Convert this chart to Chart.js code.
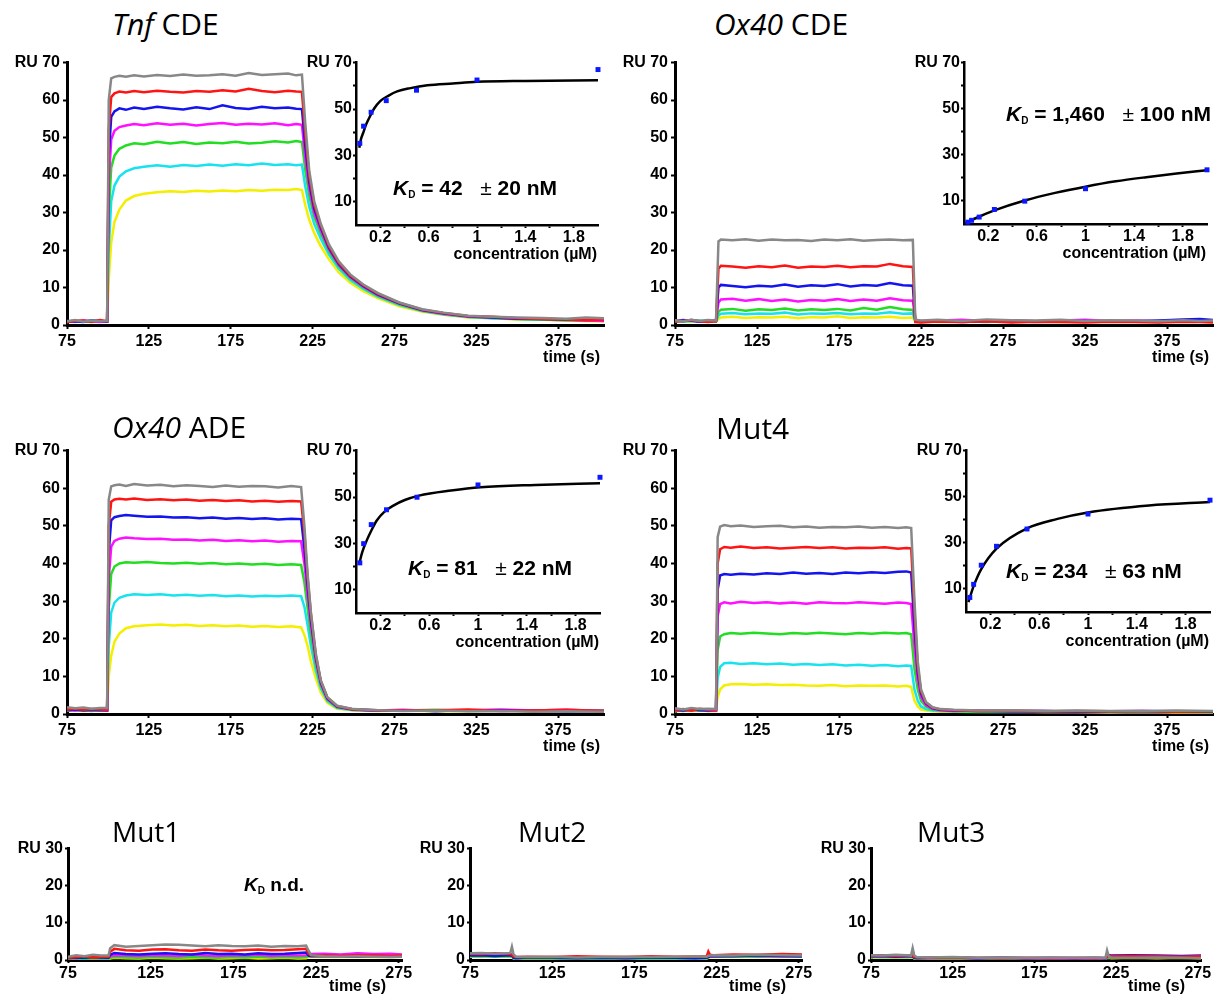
<!DOCTYPE html>
<html>
<head>
<meta charset="utf-8">
<script src="https://cdn.jsdelivr.net/npm/chart.js@4.4.1/dist/chart.umd.min.js"></script>
<style>
  body { margin: 0; background: #fff; }
  #fig { position: relative; width: 1223px; height: 996px; overflow: hidden; background: #fff; }
  #fig canvas { position: absolute; }
  .title { position: absolute; z-index: 5; font-family: "Open Sans", sans-serif; font-size: 30px; line-height: 1; white-space: nowrap; color: #000; }
  .title.small { font-size: 28px; }
  .kd { position: absolute; z-index: 5; font-family: "Liberation Sans", Arial, sans-serif; font-weight: bold; font-size: 21px; line-height: 1; white-space: pre; color: #000; }
  .kd sub { font-size: 10px; vertical-align: -3px; line-height: 0; }
  .kd .pm { font-weight: normal; }
</style>
</head>
<body>
<div id="fig">
  <div class="title" style="left:112px;top:9px"><i>Tnf</i> CDE</div>
  <div class="title" style="left:714px;top:9px"><i>Ox40</i> CDE</div>
  <div class="title" style="left:112px;top:412px"><i>Ox40</i> ADE</div>
  <div class="title" style="left:716px;top:413px">Mut4</div>
  <div class="title small" style="left:112px;top:817px">Mut1</div>
  <div class="title small" style="left:518px;top:817px">Mut2</div>
  <div class="title small" style="left:917px;top:817px">Mut3</div>

  <div class="kd" style="left:393px;top:177px"><i>K</i><sub>D</sub> = 42   <span class="pm">±</span> 20 nM</div>
  <div class="kd" style="left:1006px;top:103px"><i>K</i><sub>D</sub> = 1,460   <span class="pm">±</span> 100 nM</div>
  <div class="kd" style="left:408px;top:557px"><i>K</i><sub>D</sub> = 81   <span class="pm">±</span> 22 nM</div>
  <div class="kd" style="left:1006px;top:560px"><i>K</i><sub>D</sub> = 234   <span class="pm">±</span> 63 nM</div>
  <div class="kd" style="left:244px;top:875px;font-size:19px"><i>K</i><sub>D</sub> n.d.</div>
</div>
<script>
// ---- tick labels ----
const timeTicks = [75, 125, 175, 225, 275, 325, 375];
const shortTimeTicks = [75, 125, 175, 225, 275];
const ruTicks = [0, 10, 20, 30, 40, 50, 60, 70];
const ruLabels = ['0', '10', '20', '30', '40', '50', '60', 'RU 70'];
const ruInsetTicks = [10, 20, 30, 40, 50, 60, 70];
const ruInsetLabels = ['10', '', '30', '', '50', '', 'RU 70'];
const ruSmallTicks = [0, 10, 20, 30];
const ruSmallLabels = ['0', '10', '20', 'RU 30'];
const concTicks = [0.2, 0.4, 0.6, 0.8, 1.0, 1.2, 1.4, 1.6, 1.8];
const concLabels = ['0.2', '', '0.6', '', '1', '', '1.4', '', '1.8'];

// trace colours, low -> high analyte concentration
const traceColors = ['#f4ee00', '#18e2ee', '#22dd22', '#ff10ff', '#1414ee', '#ff1414', '#888888'];

// ---- Tnf CDE sensorgram (RU vs s) ----
const tnfTime = [75, 80, 85, 90, 95, 99.5, 100.5, 102, 104, 107, 111, 116, 122, 130, 138, 146, 154, 162, 170, 178, 186, 194, 202, 210, 215,
  218.5, 220.5, 223, 226, 230, 235, 241, 248, 256, 265, 278, 292, 305, 320, 335, 350, 365, 380, 392, 403];
const tnfTraces = [
  [0.8, 1.0, 0.9, 1.1, 1.0, 0.9, 12, 22, 27.5, 30.8, 33.2, 34.4, 35.0, 35.4, 35.7, 35.5, 35.8, 35.6, 35.9, 35.7, 36.0, 35.8, 36.1, 36.0, 36.3,
    36.0, 32, 28, 24.5, 21, 17.5, 14, 11.3, 9, 7.1, 5.0, 3.5, 2.7, 2.0, 1.8, 1.5, 1.4, 1.2, 1.1, 1.0],
  [1.0, 0.8, 1.1, 1.2, 0.9, 1.0, 20, 33, 37.2, 39.6, 41.0, 41.8, 42.2, 42.6, 42.2, 42.7, 42.4, 42.8, 42.5, 42.9, 42.6, 43.1, 42.7, 42.9, 42.6,
    42.8, 37, 31.5, 27, 23, 18.8, 15, 12, 9.6, 7.5, 5.3, 3.7, 2.8, 2.1, 1.8, 1.6, 1.5, 1.3, 1.2, 1.2],
  [0.9, 1.2, 1.0, 0.8, 1.1, 1.0, 30, 42, 45.2, 47, 47.9, 48.5, 48.2, 48.9, 48.4, 48.8, 48.3, 48.7, 48.5, 48.9, 48.4, 48.6, 49.0, 48.7, 49.1,
    48.8, 41.5, 34.5, 29, 24.5, 19.7, 15.6, 12.5, 10, 7.8, 5.5, 3.8, 2.9, 2.2, 1.9, 1.6, 1.5, 1.3, 1.3, 1.2],
  [1.1, 0.9, 1.2, 1.0, 0.8, 1.0, 38, 49.5, 51.8, 52.8, 53.2, 53.6, 53.3, 53.8, 53.4, 53.7, 53.2, 53.6, 53.9, 53.4, 53.7, 53.5, 53.8, 53.3, 53.6,
    53.4, 45, 36.5, 30, 25.3, 20.2, 16, 12.8, 10.2, 8, 5.7, 3.9, 3.0, 2.3, 2.0, 1.7, 1.8, 1.4, 1.2, 1.1],
  [0.9, 1.0, 0.8, 1.2, 1.1, 0.9, 45, 55.5, 57, 57.8, 57.4, 58.0, 57.6, 58.2, 57.8, 57.5, 58.1, 57.6, 58.6, 57.9, 57.6, 58.2, 57.8, 58.0, 57.7,
    57.6, 48, 38, 31, 26, 20.6, 16.3, 13, 10.4, 8.1, 5.8, 4.0, 3.1, 2.3, 2.0, 1.7, 1.6, 1.4, 1.6, 1.3],
  [0.8, 1.1, 1.2, 0.9, 1.3, 1.0, 52, 60.8, 61.8, 62.3, 62.0, 62.4, 62.1, 62.5, 62.2, 62.0, 62.4, 62.2, 62.6, 62.3, 63.0, 62.4, 62.1, 62.5, 62.3,
    62.2, 51, 39.5, 32, 26.5, 21, 16.6, 13.2, 10.6, 8.3, 5.9, 4.1, 3.2, 2.4, 2.2, 1.8, 1.6, 1.5, 1.3, 1.4],
  [1.0, 1.3, 0.9, 1.2, 1.0, 1.1, 60, 65.8, 66.2, 66.5, 66.2, 66.6, 66.3, 66.7, 66.4, 66.8, 66.5, 66.6, 66.9, 66.5, 67.2, 66.7, 66.9, 67.1, 66.6,
    66.8, 54, 41, 33, 27, 21.5, 17, 13.5, 10.8, 8.5, 6, 4.2, 3.3, 2.5, 2.2, 2.0, 1.9, 1.7, 2.0, 1.8]
];

// ---- Ox40 CDE sensorgram ----
const ox40cTime = [75, 80, 85, 90, 95, 100, 101.5, 103, 110, 118, 126, 134, 142, 150, 158, 166, 174, 182, 190, 198, 206, 214, 220,
  221.5, 225, 235, 250, 265, 280, 295, 310, 325, 340, 355, 370, 385, 395, 403];
const ox40cTraces = [
  [1.0, 1.2, 0.9, 1.1, 1.0, 1.0, 1.6, 2.0, 2.2, 1.9, 2.1, 2.0, 2.2, 1.8, 2.1, 2.0, 2.3, 1.9, 2.1, 2.0, 2.2, 1.9, 2.0,
    0.9, 1.1, 0.8, 1.0, 1.2, 0.9, 1.1, 0.8, 1.0, 1.3, 0.9, 1.1, 1.2, 0.9, 1.0],
  [0.9, 1.1, 1.0, 1.2, 0.9, 1.0, 2.5, 3.0, 3.2, 2.9, 3.1, 3.0, 3.3, 2.8, 3.1, 3.0, 3.2, 2.9, 3.1, 3.0, 3.4, 3.0, 3.1,
    1.0, 0.8, 1.1, 0.9, 1.0, 1.1, 0.8, 1.0, 0.9, 1.1, 1.0, 0.8, 1.1, 1.0, 0.9],
  [1.1, 0.9, 1.2, 1.0, 1.1, 1.0, 3.5, 4.1, 4.3, 3.8, 4.2, 4.0, 4.4, 3.9, 4.2, 4.0, 4.3, 3.9, 4.5, 4.1, 4.8, 4.2, 4.0,
    1.1, 0.9, 1.2, 1.0, 0.8, 1.1, 1.0, 1.2, 0.9, 1.0, 1.1, 0.9, 1.0, 1.2, 1.0],
  [1.2, 1.0, 1.3, 0.9, 1.1, 1.2, 6.0, 6.8, 7.0, 6.5, 6.9, 6.4, 6.8, 6.3, 6.7, 6.5, 6.9, 6.4, 6.8, 6.5, 7.1, 6.6, 6.5,
    1.3, 1.0, 1.2, 1.4, 1.1, 1.3, 1.0, 1.2, 1.4, 1.1, 1.2, 1.0, 1.3, 1.1, 1.2],
  [1.0, 1.3, 1.1, 0.9, 1.2, 1.1, 10.0, 10.7, 10.4, 10.1, 10.5, 10.3, 10.8, 10.2, 10.6, 10.4, 10.9, 10.3, 10.7, 10.5, 11.2, 10.6, 10.5,
    1.0, 0.9, 1.1, 0.8, 1.0, 1.2, 0.9, 1.0, 1.1, 0.9, 1.0, 1.2, 1.5, 1.6, 1.3],
  [0.9, 1.1, 1.3, 1.0, 0.8, 1.0, 15.0, 15.8, 15.6, 15.3, 15.7, 15.4, 15.9, 15.3, 15.6, 15.5, 15.8, 15.4, 15.7, 15.6, 16.3, 15.7, 15.5,
    0.8, 0.7, 0.9, 0.8, 1.0, 0.7, 0.9, 0.8, 0.7, 0.9, 0.8, 0.7, 0.9, 0.8, 0.7],
  [1.3, 1.0, 1.4, 1.1, 1.3, 1.2, 22.3, 22.8, 22.6, 22.9, 22.5, 22.8, 22.6, 22.7, 22.4, 22.8, 22.6, 22.9, 22.5, 22.7, 22.8, 22.6, 22.7,
    1.4, 1.2, 1.4, 1.1, 1.5, 1.3, 1.2, 1.4, 1.1, 1.3, 1.2, 1.0, 1.3, 1.1, 1.2]
];

// ---- Ox40 ADE sensorgram ----
const ox40aTime = [75, 80, 85, 90, 95, 99.5, 100.5, 102, 104, 107, 111, 116, 124, 132, 140, 148, 156, 164, 172, 180, 188, 196, 204, 212, 218,
  220, 222, 224, 227, 230, 234, 240, 250, 265, 280, 300, 320, 340, 360, 380, 403];
const ox40aTraces = [
  [0.9, 1.0, 0.8, 1.0, 0.9, 0.9, 10, 15.5, 19.2, 21.4, 22.8, 23.3, 23.6, 23.8, 23.5, 23.7, 23.4, 23.6, 23.3, 23.5, 23.2, 23.4, 23.1, 23.3, 23.0,
    21, 18, 14, 9.5, 5.7, 3.0, 1.4, 0.9, 0.8, 0.9, 0.7, 0.8, 0.9, 0.7, 0.8, 0.7],
  [1.0, 0.9, 1.1, 1.0, 0.9, 1.0, 18, 27, 29.6, 30.9, 31.5, 31.8, 31.6, 31.8, 31.5, 31.7, 31.4, 31.6, 31.3, 31.5, 31.2, 31.4, 31.3, 31.5, 31.3,
    28.5, 23.5, 18, 11.5, 6.8, 3.4, 1.6, 1.0, 0.9, 1.0, 0.8, 0.9, 1.0, 0.8, 0.9, 0.8],
  [0.9, 1.1, 1.0, 0.8, 1.0, 1.0, 28, 37.2, 39.2, 40.0, 40.3, 40.2, 40.4, 40.1, 40.0, 40.2, 39.9, 40.1, 39.8, 40.0, 39.7, 39.9, 39.6, 39.8, 39.6,
    35, 28, 21, 13, 7.6, 3.8, 1.8, 1.1, 1.0, 0.9, 1.1, 0.8, 0.9, 1.0, 0.8, 0.9],
  [1.1, 0.9, 1.2, 1.0, 1.1, 0.9, 36, 44.5, 46.0, 46.6, 46.9, 46.7, 46.5, 46.6, 46.3, 46.4, 46.1, 46.3, 46.0, 46.2, 45.9, 46.1, 45.8, 46.0, 45.9,
    40, 31.5, 23.5, 14.2, 8.1, 4.0, 1.9, 1.1, 0.9, 1.1, 0.8, 1.0, 1.2, 0.9, 1.1, 0.8],
  [1.0, 1.2, 0.9, 1.1, 1.0, 1.0, 43, 51.5, 52.3, 52.6, 52.9, 52.7, 52.4, 52.5, 52.2, 52.3, 52.0, 52.2, 51.9, 52.1, 51.8, 52.0, 51.7, 51.9, 51.8,
    44, 34, 25, 15, 8.5, 4.2, 2.0, 1.2, 0.9, 1.0, 0.8, 1.0, 0.9, 0.8, 0.7, 0.8],
  [1.2, 1.4, 1.1, 1.3, 1.2, 1.1, 50, 56.4, 57.0, 57.2, 57.0, 57.3, 56.9, 57.1, 56.8, 57.0, 56.7, 56.9, 56.6, 56.8, 56.5, 56.7, 56.4, 56.6, 56.5,
    48, 36, 26.5, 15.5, 8.8, 4.4, 2.1, 1.2, 1.0, 0.9, 1.0, 1.2, 0.8, 0.9, 1.1, 0.8],
  [1.8, 1.5, 1.7, 1.4, 1.6, 1.6, 57, 60.5, 60.8, 61.0, 60.6, 61.1, 60.7, 60.9, 60.5, 60.8, 60.6, 60.3, 60.7, 60.4, 60.6, 60.5, 60.2, 60.6, 60.3,
    50, 37, 27, 16, 9, 4.5, 2.2, 1.3, 1.0, 0.8, 0.9, 0.7, 0.8, 0.6, 0.7, 0.6]
];

// ---- Mut4 sensorgram ----
const mut4Time = [75, 80, 85, 90, 95, 100, 101, 102.5, 105, 109, 115, 123, 131, 139, 147, 155, 163, 171, 179, 187, 195, 203, 211, 216, 219,
  221, 223, 225, 228, 232, 237, 245, 260, 280, 300, 320, 340, 360, 380, 403];
const mut4Traces = [
  [0.7, 0.9, 0.8, 1.0, 0.8, 0.8, 4.5, 6.5, 7.6, 7.9, 8.0, 7.8, 7.9, 7.7, 7.8, 7.6, 7.5, 7.7, 7.4, 7.6, 7.5, 7.6, 7.3, 7.5, 7.2,
    3.5, 2.0, 1.2, 0.9, 0.7, 0.6, 0.6, 0.5, 0.6, 0.5, 0.5, 0.4, 0.5, 0.4, 0.4],
  [0.8, 1.0, 0.9, 1.1, 0.8, 0.9, 9.5, 12.5, 13.5, 13.6, 13.3, 13.5, 13.2, 13.4, 13.1, 13.3, 13.0, 13.2, 12.9, 13.1, 12.8, 13.0, 12.7, 12.9, 12.8,
    6.5, 3.5, 2.0, 1.3, 0.9, 0.8, 0.7, 0.6, 0.7, 0.5, 0.6, 0.5, 0.6, 0.5, 0.5],
  [1.0, 0.8, 1.1, 0.9, 1.0, 1.0, 17, 20.6, 21.2, 21.5, 21.3, 21.6, 21.4, 21.2, 21.5, 21.3, 21.6, 21.4, 21.2, 21.5, 21.3, 21.6, 21.4, 21.5, 21.2,
    12, 6.5, 3.5, 2.0, 1.2, 0.9, 0.8, 0.7, 0.8, 0.6, 0.7, 0.6, 0.7, 0.6, 0.5],
  [0.9, 1.1, 1.0, 1.2, 1.0, 0.9, 26, 29.2, 29.7, 29.4, 29.8, 29.5, 29.7, 29.4, 29.6, 29.3, 29.7, 29.5, 29.4, 29.7, 29.5, 29.3, 29.6, 29.5, 29.2,
    18, 9, 4.6, 2.4, 1.4, 1.0, 0.8, 0.9, 0.7, 0.8, 0.6, 0.7, 0.6, 0.7, 0.6],
  [1.1, 0.9, 1.2, 1.0, 0.9, 1.1, 33, 36.8, 37.2, 37.0, 37.3, 37.1, 37.4, 37.2, 37.6, 37.3, 37.5, 37.2, 37.6, 37.4, 37.7, 37.5, 37.8, 37.9, 37.6,
    23, 11, 5.5, 2.8, 1.6, 1.1, 0.9, 0.8, 0.7, 0.8, 0.6, 0.7, 0.8, 0.7, 0.6],
  [1.0, 1.3, 0.9, 1.4, 1.1, 1.0, 40, 43.8, 44.4, 44.2, 44.5, 44.1, 44.3, 44.0, 44.2, 44.4, 44.1, 44.3, 44.0, 44.2, 44.1, 44.3, 43.9, 44.1, 44.0,
    27, 12.5, 6, 3, 1.7, 1.2, 1.0, 0.8, 0.9, 0.7, 0.8, 0.7, 0.8, 0.6, 0.7],
  [1.5, 1.2, 1.6, 1.3, 1.4, 1.3, 47, 49.8, 50.2, 49.9, 50.1, 49.7, 49.9, 50.0, 49.6, 49.8, 49.5, 49.7, 49.6, 49.8, 49.5, 49.7, 49.4, 49.6, 49.4,
    30, 14, 6.5, 3.2, 1.8, 1.3, 1.1, 0.9, 1.0, 0.8, 0.9, 0.8, 0.7, 0.9, 0.8]
];

// ---- Mut1 / Mut2 / Mut3 sensorgrams ----
const mut1Time = [75, 80, 85, 90, 95, 99.5, 100.5, 103, 110, 118, 126, 134, 142, 150, 158, 166, 174, 182, 190, 198, 206, 214, 219,
  220.5, 222, 230, 240, 250, 260, 270, 277];
const mut1Traces = [
  [0.3, 0.4, 0.3, 0.4, 0.3, 0.3, 0.4, 0.6, 0.5, 0.4, 0.6, 0.5, 0.4, 0.5, 0.6, 0.4, 0.5, 0.6, 0.4, 0.5, 0.6, 0.4, 0.5, 0.8, 0.9, 0.8, 0.9, 0.8, 0.9, 0.8, 0.9],
  [0.5, 0.6, 0.4, 0.6, 0.5, 0.5, 0.8, 1.0, 0.9, 0.8, 1.1, 0.9, 0.8, 1.0, 0.9, 1.1, 0.9, 0.8, 1.0, 0.9, 1.0, 0.8, 0.9, 1.3, 1.2, 1.3, 1.2, 1.4, 1.3, 1.2, 1.3],
  [0.4, 0.5, 0.3, 0.5, 0.4, 0.4, 0.6, 0.8, 0.7, 0.6, 0.8, 0.7, 0.6, 0.8, 0.7, 0.6, 0.8, 0.7, 0.9, 0.7, 0.8, 0.7, 0.8, 1.0, 1.1, 1.2, 1.0, 1.1, 1.2, 1.0, 1.1],
  [0.7, 0.5, 0.8, 0.6, 0.7, 0.6, 1.0, 1.3, 1.2, 1.1, 1.3, 1.2, 1.1, 1.4, 1.2, 1.1, 1.3, 1.2, 1.4, 1.1, 1.3, 1.2, 1.3, 1.5, 1.6, 1.7, 1.5, 1.8, 1.6, 1.7, 1.5],
  [0.5, 0.7, 0.6, 0.8, 0.7, 0.6, 1.4, 1.9, 1.6, 1.5, 1.7, 1.8, 1.6, 1.5, 1.9, 1.6, 1.7, 1.5, 1.8, 1.6, 1.7, 1.9, 2.0, 1.2, 1.0, 1.1, 1.0, 0.9, 1.1, 1.0, 1.0],
  [0.6, 0.8, 1.0, 0.7, 0.9, 0.9, 2.2, 3.0, 2.6, 2.5, 2.8, 2.9, 2.6, 2.5, 2.8, 2.6, 2.5, 2.7, 2.8, 2.6, 2.7, 2.9, 3.0, 1.7, 1.3, 1.2, 1.1, 1.3, 1.2, 1.1, 1.2],
  [0.9, 1.3, 1.0, 1.4, 1.2, 1.2, 3.2, 4.0, 3.6, 3.8, 4.0, 4.2, 4.1, 3.9, 3.7, 4.0, 3.8, 3.7, 3.9, 3.6, 3.8, 3.7, 3.9, 2.5, 1.3, 1.0, 0.9, 1.0, 0.9, 0.8, 0.9]
];
const mut2Time = [75, 82, 90, 97, 99.5, 100.5, 101.5, 103, 110, 125, 140, 155, 170, 185, 200, 212, 219, 220, 221, 223, 235, 250, 265, 277];
const mut2Traces = [
  [0.9, 0.8, 1.0, 0.9, 0.8, 0.9, 0.4, 0.3, 0.4, 0.3, 0.4, 0.3, 0.4, 0.3, 0.4, 0.3, 0.4, 0.6, 0.8, 0.9, 0.8, 0.9, 0.8, 0.9],
  [1.1, 1.0, 1.2, 1.1, 1.0, 1.1, 0.6, 0.5, 0.6, 0.5, 0.6, 0.5, 0.6, 0.5, 0.6, 0.5, 0.6, 0.8, 1.2, 1.3, 1.2, 1.3, 1.4, 1.3],
  [1.0, 1.1, 0.9, 1.0, 1.1, 1.0, 0.5, 0.4, 0.5, 0.4, 0.5, 0.4, 0.5, 0.4, 0.5, 0.4, 0.5, 0.7, 0.9, 0.9, 1.0, 0.9, 1.0, 0.9],
  [1.4, 1.3, 1.5, 1.4, 1.3, 1.3, 0.8, 0.7, 0.6, 0.7, 0.8, 0.6, 0.7, 0.8, 0.7, 0.6, 0.7, 0.9, 1.1, 1.0, 1.2, 1.1, 1.0, 1.1],
  [1.2, 1.3, 1.1, 1.2, 1.3, 1.2, 0.6, 0.5, 0.7, 0.6, 0.5, 0.6, 0.5, 0.7, 0.6, 0.5, 0.6, 0.8, 1.0, 1.1, 1.0, 1.2, 1.1, 1.0],
  [1.7, 1.6, 1.8, 1.7, 1.6, 1.5, 1.0, 0.8, 0.9, 0.8, 1.0, 0.9, 0.8, 1.0, 0.9, 0.9, 1.0, 2.3, 1.4, 1.3, 1.5, 1.4, 1.6, 1.5],
  [1.8, 1.9, 1.7, 1.8, 1.9, 3.6, 1.5, 0.9, 0.8, 0.9, 0.7, 0.8, 0.9, 0.8, 0.9, 1.0, 0.9, 1.1, 1.2, 1.3, 1.2, 1.4, 1.3, 1.2]
];
const mut3Time = [75, 82, 90, 97, 99.5, 100.5, 101.5, 103, 110, 125, 140, 155, 170, 185, 200, 212, 218.5, 219.5, 220.5, 222, 235, 250, 265, 277];
const mut3Traces = [
  [0.7, 0.8, 0.7, 0.8, 0.7, 0.7, 0.4, 0.3, 0.4, 0.3, 0.4, 0.3, 0.4, 0.3, 0.4, 0.3, 0.4, 0.5, 0.6, 0.5, 0.6, 0.5, 0.6, 0.5],
  [0.9, 0.8, 0.9, 0.8, 0.9, 0.9, 0.5, 0.4, 0.5, 0.4, 0.5, 0.6, 0.5, 0.4, 0.5, 0.4, 0.5, 0.7, 0.8, 0.7, 0.8, 0.7, 0.8, 0.7],
  [0.8, 0.9, 0.8, 0.9, 0.8, 0.8, 0.5, 0.4, 0.5, 0.4, 0.5, 0.4, 0.5, 0.4, 0.5, 0.4, 0.5, 0.6, 0.7, 0.6, 0.7, 0.6, 0.7, 0.6],
  [1.1, 1.0, 1.2, 1.1, 1.0, 1.1, 0.7, 0.6, 0.5, 0.6, 0.5, 0.6, 0.5, 0.4, 0.5, 0.4, 0.5, 0.8, 0.9, 0.8, 0.9, 0.8, 0.9, 0.8],
  [1.0, 1.1, 0.9, 1.0, 1.1, 1.0, 0.6, 0.5, 0.6, 0.7, 0.5, 0.6, 0.5, 0.6, 0.5, 0.6, 0.5, 1.0, 1.3, 1.2, 1.3, 1.2, 1.1, 1.2],
  [1.2, 1.3, 1.1, 1.2, 1.3, 1.2, 0.8, 0.7, 0.6, 0.7, 0.6, 0.5, 0.6, 0.5, 0.6, 0.5, 0.6, 0.9, 1.1, 1.0, 1.1, 1.0, 0.9, 1.0],
  [1.3, 1.2, 1.4, 1.3, 1.2, 3.2, 1.2, 0.8, 0.7, 0.8, 0.6, 0.7, 0.6, 0.7, 0.6, 0.7, 0.6, 2.6, 1.0, 0.7, 0.6, 0.7, 0.6, 0.5]
];

// ---- steady-state binding insets (RU vs µM) ----
const concUM = [0.03125, 0.0625, 0.125, 0.25, 0.5, 1, 2];
const tnfBound = [35.2, 42.6, 48.6, 53.6, 58.1, 62.5, 67.0];
const tnfFitX = [0.027, 0.04, 0.06, 0.085, 0.116, 0.15, 0.2, 0.27, 0.34, 0.45, 0.59, 0.8, 1.0, 1.4, 2.0];
const tnfFitY = [33.3, 36.8, 39.8, 43.5, 46.9, 50.2, 53.4, 55.8, 57.6, 59.0, 60.2, 61.0, 61.7, 62.1, 62.4];
const ox40cBound = [0.8, 1.6, 3.0, 6.3, 9.9, 15.3, 23.5];
const ox40cFitX = [0, 0.1, 0.25, 0.5, 0.75, 1, 1.25, 1.5, 1.75, 2];
const ox40cFitY = [0, 2.6, 5.9, 10.2, 13.5, 16.2, 18.5, 20.3, 21.9, 23.3];
const ox40aBound = [21.6, 29.9, 38.1, 44.5, 49.9, 55.2, 58.5];
const ox40aFitX = [0.027, 0.05, 0.088, 0.13, 0.17, 0.23, 0.31, 0.4, 0.516, 0.78, 1.02, 1.47, 2.0];
const ox40aFitY = [21.3, 26, 31.3, 36, 39.9, 43.5, 46.4, 48.7, 50.6, 52.8, 54.2, 55.2, 55.9];
const mut4Bound = [6.3, 12.0, 20.3, 28.5, 36.0, 42.5, 48.5];
const mut4FitX = [0.02, 0.0625, 0.125, 0.25, 0.5, 0.75, 1, 1.5, 2];
const mut4FitY = [4.3, 11.2, 18.6, 27.5, 36.3, 40.4, 43.2, 46.2, 47.7];

const FONT = "'Liberation Sans', Arial, sans-serif";
Chart.defaults.font.family = FONT;
Chart.defaults.font.weight = 'bold';
Chart.defaults.font.size = 16;
Chart.defaults.color = '#000';

// draws "time (s)" / "concentration (µM)" under the right end of the x axis
const cornerLabel = {
  id: 'cornerLabel',
  afterDraw(chart, args, opts) {
    if (!opts.text) return;
    const { ctx, chartArea } = chart;
    ctx.save();
    ctx.font = 'bold 16px ' + FONT;
    ctx.fillStyle = '#000';
    ctx.textAlign = 'right';
    ctx.textBaseline = 'middle';
    ctx.fillText(opts.text, chartArea.right + opts.dx, chartArea.bottom + opts.dy);
    ctx.restore();
  }
};
Chart.register(cornerLabel);

const fig = document.getElementById('fig');

function axis(o) {
  return {
    type: 'linear',
    min: o.min,
    max: o.max,
    afterFit: o.fit,
    afterBuildTicks: (s) => { s.ticks = o.ticks.map((v) => ({ value: v })); },
    ticks: {
      autoSkip: false,
      maxRotation: 0,
      padding: o.pad,
      font: { size: 16, weight: 'bold' },
      callback: (v, i) => o.labels[i]
    },
    grid: { drawOnChartArea: false, drawTicks: true, tickLength: o.tick, tickWidth: 2, color: '#000' },
    border: { color: '#000', width: o.lw }
  };
}

function addChart(box, m, datasets, s) {
  const c = document.createElement('canvas');
  c.width = box[2] - box[0] + m.l + m.r;
  c.height = box[3] - box[1] + m.t + m.b;
  c.style.left = (box[0] - m.l) + 'px';
  c.style.top = (box[1] - m.t) + 'px';
  fig.appendChild(c);
  new Chart(c, {
    type: 'line',
    data: { datasets },
    options: {
      responsive: false,
      animation: false,
      events: [],
      layout: { padding: { left: 0, top: m.t, right: m.r, bottom: 0 } },
      scales: {
        x: axis(Object.assign({ fit: (sc) => { sc.height = m.b; } }, s.x)),
        y: axis(Object.assign({ fit: (sc) => { sc.width = m.l; } }, s.y))
      },
      plugins: {
        legend: { display: false },
        tooltip: { enabled: false },
        cornerLabel: s.corner
      }
    }
  });
}

function traceSets(time, traces) {
  return traces.map((vals, i) => ({
    data: vals.map((v, j) => ({ x: time[j], y: v })),
    borderColor: traceColors[i],
    borderWidth: 2.5,
    pointRadius: 0,
    tension: 0,
    order: traces.length - i
  }));
}

function insetSets(bound, fitX, fitY) {
  return [
    {
      data: concUM.map((c, i) => ({ x: c, y: bound[i] })),
      showLine: false,
      pointStyle: 'rect',
      pointRadius: 3.5,
      pointBackgroundColor: '#0c18ff',
      pointBorderWidth: 0,
      clip: false
    },
    {
      data: fitX.map((c, i) => ({ x: c, y: fitY[i] })),
      borderColor: '#000',
      borderWidth: 2.5,
      pointRadius: 0,
      cubicInterpolationMode: 'monotone'
    }
  ];
}

// ---- main sensorgrams ----
const mainM = { l: 62, t: 12, r: 8, b: 48 };
const mainScales = {
  x: { min: 75, max: 403, ticks: timeTicks, labels: timeTicks.map(String), pad: 3, tick: 4, lw: 3 },
  y: { min: 0, max: 70, ticks: ruTicks, labels: ruLabels, pad: 3, tick: 4, lw: 3 },
  corner: { text: 'time (s)', dx: -4, dy: 33 }
};
addChart([67, 62, 604, 325], mainM, traceSets(tnfTime, tnfTraces), mainScales);
addChart([675, 62, 1213, 325], mainM, traceSets(ox40cTime, ox40cTraces), mainScales);
addChart([67, 450, 604, 714], mainM, traceSets(ox40aTime, ox40aTraces), mainScales);
addChart([675, 450, 1213, 714], mainM, traceSets(mut4Time, mut4Traces), mainScales);

// ---- insets ----
const insetM = { l: 52, t: 10, r: 6, b: 42 };
const insetScales = {
  x: { min: 0, max: 2, ticks: concTicks, labels: concLabels, pad: 0, tick: 3, lw: 2.5 },
  y: { min: 0, max: 70, ticks: ruInsetTicks, labels: ruInsetLabels, pad: 1, tick: 3, lw: 2.5 },
  corner: { text: 'concentration (µM)', dx: -1, dy: 30 }
};
addChart([356, 62, 598, 225], insetM, insetSets(tnfBound, tnfFitX, tnfFitY), insetScales);
addChart([964, 62, 1207, 224], insetM, insetSets(ox40cBound, ox40cFitX, ox40cFitY), insetScales);
addChart([356, 450, 600, 613], insetM, insetSets(ox40aBound, ox40aFitX, ox40aFitY), insetScales);
addChart([966, 450, 1210, 612], insetM, insetSets(mut4Bound, mut4FitX, mut4FitY), insetScales);

// ---- non-binding mutants ----
const smallM = { l: 60, t: 10, r: 16, b: 36 };
const smallScales = {
  x: { min: 75, max: 277, ticks: shortTimeTicks, labels: shortTimeTicks.map(String), pad: 1, tick: 3, lw: 3 },
  y: { min: 0, max: 30, ticks: ruSmallTicks, labels: ruSmallLabels, pad: 2, tick: 3, lw: 3 },
  corner: { text: 'time (s)', dx: -16, dy: 27 }
};
addChart([68, 847, 402, 960], smallM, traceSets(mut1Time, mut1Traces), smallScales);
addChart([470, 847, 802, 960], smallM, traceSets(mut2Time, mut2Traces), smallScales);
addChart([871, 847, 1201, 960], smallM, traceSets(mut3Time, mut3Traces), smallScales);
</script>
</body>
</html>
